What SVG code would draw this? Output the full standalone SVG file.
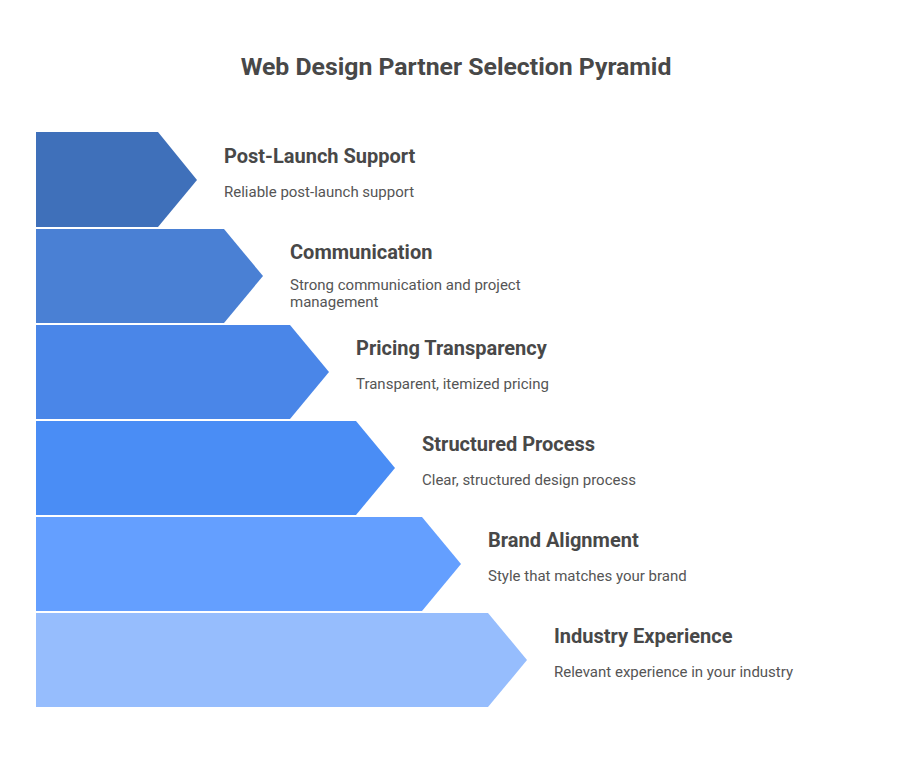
<svg xmlns="http://www.w3.org/2000/svg" width="912" height="768" viewBox="0 0 912 768">
<style>
.title{font-family:Roboto,"Liberation Sans",sans-serif;font-weight:700;font-size:24.8px;fill:#484848}
.lbl{font-family:Roboto,"Liberation Sans",sans-serif;font-weight:700;font-size:20px;fill:#484848}
.desc{font-family:Roboto,"Liberation Sans",sans-serif;font-weight:400;font-size:15px;fill:#555555}
.band{stroke:none}
</style>
<rect width="912" height="768" fill="#ffffff"/>
<text class="title" x="456" y="75" text-anchor="middle">Web Design Partner Selection Pyramid</text>
<g id="node-post-launch">
<polygon class="band" points="36,132 158,132 197,180 158,227 36,227" fill="#3f70ba"/>
<text class="lbl" x="224" y="163">Post-Launch Support</text>
<text class="desc" x="224" y="197">Reliable post-launch support</text>
</g>
<g id="node-communication">
<polygon class="band" points="36,229 224,229 263,276 224,323 36,323" fill="#4a80d4"/>
<text class="lbl" x="290" y="259">Communication</text>
<text class="desc" x="290" y="290">Strong communication and project</text>
<text class="desc" x="290" y="307">management</text>
</g>
<g id="node-pricing">
<polygon class="band" points="36,325 290,325 329,372 290,419 36,419" fill="#4a86e8"/>
<text class="lbl" x="356" y="355">Pricing Transparency</text>
<text class="desc" x="356" y="389">Transparent, itemized pricing</text>
</g>
<g id="node-structured">
<polygon class="band" points="36,421 356,421 395,468 356,515 36,515" fill="#4a8df5"/>
<text class="lbl" x="422" y="451">Structured Process</text>
<text class="desc" x="422" y="485">Clear, structured design process</text>
</g>
<g id="node-brand">
<polygon class="band" points="36,517 422,517 461,564 422,611 36,611" fill="#649fff"/>
<text class="lbl" x="488" y="547">Brand Alignment</text>
<text class="desc" x="488" y="581">Style that matches your brand</text>
</g>
<g id="node-industry">
<polygon class="band" points="36,613 488,613 527,660 488,707 36,707" fill="#96bdfd"/>
<text class="lbl" x="554" y="643">Industry Experience</text>
<text class="desc" x="554" y="677">Relevant experience in your industry</text>
</g>
<g id="connectors"></g>
</svg>
